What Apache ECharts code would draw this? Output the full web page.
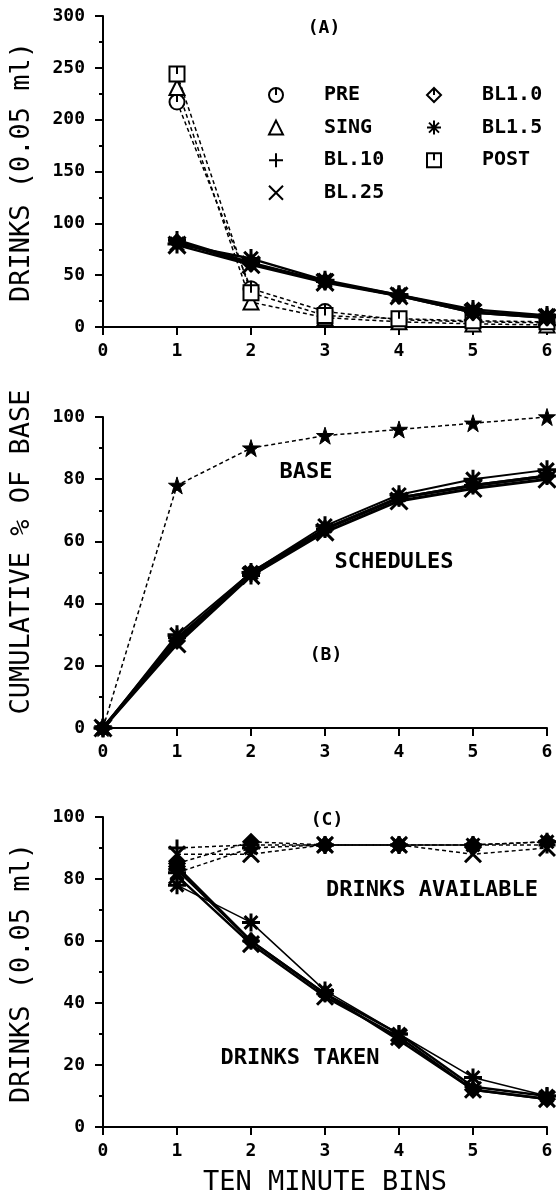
<!DOCTYPE html>
<html>
<head>
<meta charset="utf-8">
<script src="https://cdn.jsdelivr.net/npm/echarts@6/dist/echarts.min.js"></script>
<style>
  html, body { margin: 0; padding: 0; background: #fff; }
  #chart { width: 556px; height: 1197px; }
</style>
</head>
<body>
<div id="chart"></div>
<script>
// bins (x values)
const binsA = [1, 2, 3, 4, 5, 6];
const binsB = [0, 1, 2, 3, 4, 5, 6];
const binsC = [1, 2, 3, 4, 5, 6];

// panel A: drinks per bin
const aPRE = [217, 37, 15, 7, 5, 4];
const aSING = [231, 24, 9, 5, 3, 2];
const aPOST = [244, 33, 11, 8, 6, 5];
const aBL10 = [84, 62, 44, 31, 15, 10];
const aBL25 = [79, 60, 43, 30, 14, 9];
const aBL1_0 = [82, 61, 44, 30, 14, 9];
const aBL1_5 = [80, 66, 45, 31, 17, 11];

// panel B: cumulative % of base
const bBASE = [0, 78, 90, 94, 96, 98, 100];
const bBL10 = [0, 29, 49, 64, 74, 78, 81];
const bBL25 = [0, 27, 49, 63, 73, 77, 80];
const bBL1_0 = [0, 28, 50, 64, 74, 78, 81];
const bBL1_5 = [0, 30, 50, 65, 75, 80, 83];

// panel C: drinks available / taken
const cAvBL10 = [90, 91, 91, 91, 91, 91];
const cAvBL25 = [88, 88, 91, 91, 88, 90];
const cAvBL1_0 = [85, 92, 91, 91, 91, 92];
const cAvBL1_5 = [82, 90, 91, 91, 91, 92];
const cTkBL10 = [83, 60, 43, 30, 13, 10];
const cTkBL25 = [81, 59, 42, 29, 12, 9];
const cTkBL1_0 = [84, 60, 43, 28, 12, 9];
const cTkBL1_5 = [78, 66, 44, 30, 16, 10];

const legendCol1 = ['PRE', 'SING', 'BL.10', 'BL.25'];
const legendCol2 = ['BL1.0', 'BL1.5', 'POST'];

// marker shapes
const symCircle = 'path://M7,1A6,6 0 1,1 6.99,1ZM7,1L7,7';
const symTri = 'path://M7,1L13,13L1,13Z';
const symPlus = 'path://M7,0L7,14M0,7L14,7';
const symCross = 'path://M1,1L13,13M13,1L1,13';
const symDiamond = 'path://M7,0L14,7L7,14L0,7ZM7,0L7,7';
const symAst = 'path://M7,0L7,14M0,7L14,7M2,2L12,12M12,2L2,12';
const symSquare = 'path://M1,1L13,1L13,13L1,13ZM7,1L7,7';
const symStar = 'path://M7,0L8.6,5L14,5L9.7,8.2L11.3,13.4L7,10.3L2.7,13.4L4.3,8.2L0,5L5.4,5Z';

const FONT = 'DejaVu Sans Mono';
const pairs = (xs, ys) => xs.map((x, i) => [x, ys[i]]);

function line(name, idx, xs, ys, sym, opts) {
  const dashed = opts.dashed;
  return {
    name: name,
    type: 'line',
    xAxisIndex: idx,
    yAxisIndex: idx,
    data: pairs(xs, ys),
    symbol: sym,
    symbolSize: opts.size || 16,
    clip: false,
    z: dashed ? 2 : 3,
    lineStyle: { color: '#000', width: opts.width || (dashed ? 1.5 : 2.5), type: dashed ? [4, 3] : 'solid' },
    itemStyle: { color: opts.hollow ? '#fff' : '#000', borderColor: '#000', borderWidth: opts.bw || 2 },
    emphasis: { disabled: true }
  };
}

function xAx(idx, extra) {
  return Object.assign({
    type: 'value', gridIndex: idx, min: 0, max: 6, interval: 1,
    axisLine: { show: true, onZero: false, lineStyle: { color: '#000', width: 2 } },
    axisTick: { show: true, length: 8, lineStyle: { color: '#000', width: 2 } },
    axisLabel: { color: '#000', fontFamily: FONT, fontWeight: 'bold', fontSize: 18, margin: 15 },
    splitLine: { show: false }
  }, extra || {});
}

function yAx(idx, max, interval) {
  return {
    type: 'value', gridIndex: idx, min: 0, max: max, interval: interval,
    axisLine: { show: true, onZero: false, lineStyle: { color: '#000', width: 2 } },
    axisTick: { show: true, length: 8, lineStyle: { color: '#000', width: 2 } },
    minorTick: { show: true, splitNumber: 2, length: 4, lineStyle: { color: '#000', width: 2 } },
    axisLabel: { color: '#000', fontFamily: FONT, fontWeight: 'bold', fontSize: 18, margin: 18 },
    splitLine: { show: false },
    minorSplitLine: { show: false }
  };
}

function label(x, y, text, size, rot, weight) {
  return {
    type: 'text', x: x, y: y, rotation: rot || 0, silent: true,
    style: {
      text: text, fill: '#000', font: (weight || 'bold') + ' ' + (size || 22) + 'px "' + FONT + '"',
      textAlign: 'center', textVerticalAlign: 'middle', align: 'center', verticalAlign: 'middle'
    }
  };
}

const legendIcons = {
  'PRE': symCircle, 'SING': symTri, 'BL.10': symPlus, 'BL.25': symCross,
  'BL1.0': symDiamond, 'BL1.5': symAst, 'POST': symSquare
};

function legend(names, left) {
  return {
    orient: 'vertical', left: left, top: 80, itemWidth: 14, itemHeight: 14, itemGap: 12.6,
    selectedMode: false,
    data: names.map(n => ({ name: n, icon: legendIcons[n] })),
    itemStyle: { color: '#fff', borderColor: '#000', borderWidth: 2 },
    textStyle: { color: '#000', fontFamily: FONT, fontWeight: 'bold', fontSize: 20, padding: [0, 0, 0, 36] }
  };
}

const chart = echarts.init(document.getElementById('chart'), null, { renderer: 'canvas' });

const option = {
  backgroundColor: '#fff',
  animation: false,
  grid: [
    { left: 103, top: 16, width: 444, height: 311 },
    { left: 103, top: 417, width: 444, height: 311 },
    { left: 103, top: 817, width: 444, height: 311 }
  ],
  xAxis: [
    xAx(0), xAx(1),
    xAx(2, {
      name: 'TEN MINUTE BINS', nameLocation: 'middle', nameGap: 42,
      nameTextStyle: { color: '#000', fontFamily: FONT, fontSize: 27 }
    })
  ],
  yAxis: [yAx(0, 300, 50), yAx(1, 100, 20), yAx(2, 100, 20)],
  legend: [legend(legendCol1, 263), legend(legendCol2, 421)],
  graphic: [
    label(22, 172, 'DRINKS (0.05 ml)', 27, Math.PI / 2, 'normal'),
    label(22, 552, 'CUMULATIVE % OF BASE', 27, Math.PI / 2, 'normal'),
    label(22, 973, 'DRINKS (0.05 ml)', 27, Math.PI / 2, 'normal'),
    label(324, 28, '(A)', 18),
    label(326, 655, '(B)', 18),
    label(327, 820, '(C)', 18),
    label(306, 472, 'BASE', 22),
    label(394, 562, 'SCHEDULES', 22),
    label(432, 890, 'DRINKS AVAILABLE', 22),
    label(300, 1058, 'DRINKS TAKEN', 22)
  ],
  series: [
    // panel A
    line('PRE', 0, binsA, aPRE, symCircle, { dashed: true, hollow: true, bw: 2, size: 15 }),
    line('SING', 0, binsA, aSING, symTri, { dashed: true, hollow: true, bw: 2, size: 15 }),
    line('POST', 0, binsA, aPOST, symSquare, { dashed: true, hollow: true, bw: 2, size: 15 }),
    line('BL.10', 0, binsA, aBL10, symPlus, { bw: 3, size: 18 }),
    line('BL.25', 0, binsA, aBL25, symCross, { bw: 3, size: 17 }),
    line('BL1.0', 0, binsA, aBL1_0, symDiamond, { bw: 3, size: 14 }),
    line('BL1.5', 0, binsA, aBL1_5, symAst, { bw: 3, size: 19 }),
    // panel B
    line('BASE', 1, binsB, bBASE, symStar, { dashed: true, size: 17, bw: 1 }),
    line('B BL.10', 1, binsB, bBL10, symPlus, { width: 3, bw: 3, size: 18 }),
    line('B BL.25', 1, binsB, bBL25, symCross, { width: 3, bw: 3, size: 17 }),
    line('B BL1.0', 1, binsB, bBL1_0, symDiamond, { width: 3, bw: 3, size: 14 }),
    line('B BL1.5', 1, binsB, bBL1_5, symAst, { width: 2, bw: 3, size: 19 }),
    // panel C
    line('AV BL.10', 2, binsC, cAvBL10, symPlus, { dashed: true, bw: 3, size: 17 }),
    line('AV BL.25', 2, binsC, cAvBL25, symCross, { dashed: true, bw: 3, size: 16 }),
    line('AV BL1.0', 2, binsC, cAvBL1_0, symDiamond, { dashed: true, bw: 3, size: 14 }),
    line('AV BL1.5', 2, binsC, cAvBL1_5, symAst, { dashed: true, bw: 3, size: 18 }),
    line('TK BL.10', 2, binsC, cTkBL10, symPlus, { width: 2.5, bw: 3, size: 17 }),
    line('TK BL.25', 2, binsC, cTkBL25, symCross, { width: 2.5, bw: 3, size: 16 }),
    line('TK BL1.0', 2, binsC, cTkBL1_0, symDiamond, { width: 2.5, bw: 3, size: 14 }),
    line('TK BL1.5', 2, binsC, cTkBL1_5, symAst, { width: 1.5, bw: 3, size: 18 })
  ]
};

chart.setOption(option);
</script>
</body>
</html>
